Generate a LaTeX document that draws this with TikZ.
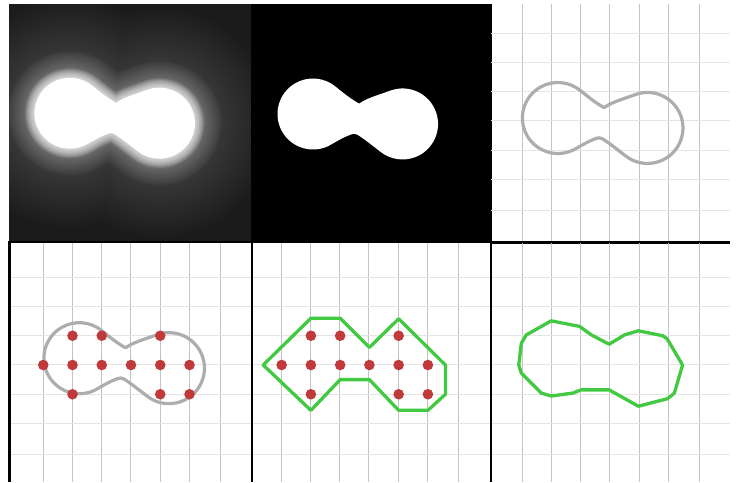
\documentclass[tikz,border=0pt]{standalone}
\usepackage{tikz}
\definecolor{darkbg}{HTML}{1B1B1B}
\definecolor{gridv}{HTML}{C4C4C4}
\definecolor{gridh}{HTML}{E4E4E4}
\definecolor{outc}{HTML}{ADADAD}
\definecolor{segc}{HTML}{42C942}
\definecolor{dotc}{HTML}{C0393B}
\tikzset{
  vline/.style={gridv,line width=1.3pt},
  hline/.style={gridh,line width=1.6pt},
  frame/.style={black,line width=2.2pt},
  glow/.style={white,line join=round,opacity=#1},
  outline/.style={outc,line width=3.2pt,line join=round},
  seg/.style={segc,line width=3.3pt,line join=round},
  dot/.style={fill=dotc}
}
% blob contour, local coordinates (pt, y down)
\newcommand{\blobshape}{(84.8,82.8) .. controls (92.5,89.2) and (102,96.5) .. (108.3,99.6)
  .. controls (114.7,94.5) and (128.1,90.7) .. (139.4,86.6)
  arc[start angle=-110,end angle=128,radius=35.5]
  .. controls (121.7,141.8) and (112,134) .. (106,130.5)
  .. controls (104,129.6) and (102,129.6) .. (100.5,130.3)
  .. controls (94,132.5) and (86.7,136.7) .. (79.75,140.74)
  arc[start angle=60,end angle=310,radius=35.5] -- cycle}
\newcommand{\gridpos}{29.5,58.5,87.5,116.5,146.5,175.5,206.5}
\newcommand{\dotlist}{2/3,3/3,5/3,1/4,2/4,3/4,4/4,5/4,6/4,2/5,5/5,6/5}

\begin{document}
\begin{tikzpicture}[x=1pt,y=-1pt]
\useasboundingbox (0,0) rectangle (738,482);

% top left: blurred image
\begin{scope}
\clip (9,4) rectangle (251,243);
\fill[darkbg] (9,4) rectangle (251,243);
\begin{scope}[shift={(7.9,3.2)}]
\foreach \k in {1,...,40}{\draw[glow=0.008,line width={4*\k}] \blobshape;}
\foreach \k in {1,...,30}{\draw[glow=0.017,line width={1.8*\k}] \blobshape;}
\foreach \k in {1,...,16}{\draw[glow=0.065,line width={1.2*\k}] \blobshape;}
\fill[white] \blobshape;
\end{scope}
\fill[black] (9,240.5) rectangle (251,243);
\end{scope}

% top middle: threshold
\fill[black] (251,4) rectangle (492,243);
\fill[white,shift={(251,4)}] \blobshape;

% top right: contour on grid
\begin{scope}[shift={(493,4)}]
\foreach \g in \gridpos {\draw[vline] (\g,0) -- (\g,238);}
\foreach \g in \gridpos {\draw[hline] (-2,\g) -- (237,\g);}
\end{scope}
\draw[outline,shift={(495.9,8)}] \blobshape;
\draw[black,line width=3.3pt] (491,242.5) -- (730,242.5);

% bottom left: contour and samples
\begin{scope}[shift={(14,248)}]
\foreach \g in \gridpos {\draw[vline] (\g,-5) -- (\g,234);}
\foreach \g in \gridpos {\draw[hline] (-5,\g) -- (238,\g);}
\end{scope}
\draw[outline,shift={(17.4,248.2)}] \blobshape;
\begin{scope}[shift={(14,248)},x=29.25pt,y=-29.25pt]
\foreach \i/\j in \dotlist {\fill[dot] (\i,\j) circle (5.3pt);}
\end{scope}

% bottom middle: samples and polygon
\begin{scope}[shift={(252,248)}]
\foreach \g in \gridpos {\draw[vline] (\g,-5) -- (\g,234);}
\foreach \g in \gridpos {\draw[hline] (0,\g) -- (239,\g);}
\end{scope}
\begin{scope}[shift={(252.4,248)},x=29.25pt,y=-29.25pt]
\draw[seg] (0.37,4) -- (2,2.4) -- (3,2.4) -- (4,3.4) -- (5,2.42) -- (6.6,4) -- (6.6,5) -- (6,5.55) -- (5,5.55) -- (4,4.5) -- (3,4.5) -- (2,5.55) -- cycle;
\foreach \i/\j in \dotlist {\fill[dot] (\i,\j) circle (5.3pt);}
\end{scope}

% bottom right: smooth polygon
\begin{scope}[shift={(493,248)}]
\foreach \g in \gridpos {\draw[vline] (\g,-5) -- (\g,234);}
\foreach \g in \gridpos {\draw[hline] (-2,\g) -- (237,\g);}
\end{scope}
\begin{scope}[shift={(493,248)},x=29.25pt,y=-29.25pt]
\draw[seg] (0.88,4.0) -- (0.97,3.25) -- (1.14,2.97) -- (1.99,2.49) -- (2.96,2.68) -- (3.36,2.97) -- (3.97,3.29) -- (4.5,2.97) -- (4.97,2.83) -- (5.8,3.0) -- (5.95,3.1) -- (6.48,4.0) -- (6.2,4.96) -- (5.97,5.15) -- (4.97,5.41) -- (3.97,4.85) -- (3.01,4.85) -- (2.73,4.96) -- (1.99,5.06) -- (1.65,4.96) -- (0.97,4.28) -- cycle;
\end{scope}

% panel frames
\draw[frame] (9.5,241) -- (9.5,482);
\draw[frame] (252,241) -- (252,482);
\draw[frame] (491.3,241) -- (491.3,482);
\end{tikzpicture}
\end{document}
